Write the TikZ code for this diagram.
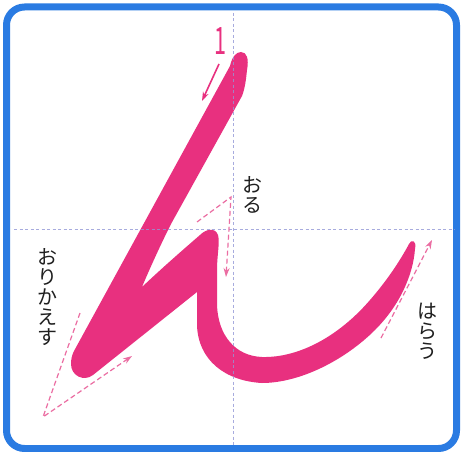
\documentclass[tikz,border=0pt]{standalone}
\usepackage{fontspec}
\newfontfamily\jpfont{Noto Sans CJK JP}
\usepackage{tikz}
\usetikzlibrary{arrows.meta, positioning}
\definecolor{FrameBlue}{HTML}{2A7BE2}
\definecolor{InkPink}{HTML}{E8307F}
\definecolor{HintPink}{HTML}{EB6DA2}
\definecolor{GuideLilac}{HTML}{9297D6}

\begin{document}
\begin{tikzpicture}[x=1pt, y=-1pt,
    frame/.style={draw=FrameBlue, line width=7pt, rounded corners=18pt, fill=white},
    guide/.style={draw=GuideLilac, draw opacity=0.8, line width=0.9pt, dash pattern=on 3pt off 2.5pt},
    ink/.style={fill=InkPink},
    order/.style={draw=InkPink, line width=1.6pt, -{Stealth[length=9pt, width=6pt]}},
    hint/.style={draw=HintPink, line width=1.2pt, dash pattern=on 5pt off 3pt},
    hinttip/.style={hint, -{Stealth[length=9pt, width=6pt]}},
    vlabel/.style={font=\jpfont\fontsize{20}{20}\selectfont, align=center, inner sep=0pt, text=black!88}
]
\useasboundingbox (0,0) rectangle (463,452);
\draw[frame] (6.5,7) rectangle (456.5,448.5);

% --- the character ---
\fill[ink] (230,66)
  .. controls (232,57) and (236,52) .. (241,52)
  .. controls (247,52) and (249,59) .. (247,70)
  .. controls (246,80) and (245,88) .. (242,96)
  -- (171,224)
  .. controls (160,246) and (150,268) .. (142,287)
  .. controls (162,268) and (185,248) .. (200,235)
  .. controls (206,229) and (215,227) .. (218,235)
  .. controls (220,243) and (217,255) .. (217,270)
  -- (217,305)
  .. controls (218,335) and (235,356) .. (262,357)
  .. controls (300,358) and (340,335) .. (370,300)
  .. controls (390,277) and (402,257) .. (409,244)
  .. controls (411,239) and (417,240) .. (415,249)
  .. controls (413,275) and (400,305) .. (375,330)
  .. controls (345,360) and (300,383) .. (262,383)
  .. controls (225,381) and (198,360) .. (197,325)
  -- (197,292)
  -- (93,375)
  .. controls (84,382) and (71,376) .. (71,364)
  .. controls (71,359) and (72,355) .. (74,351)
  -- cycle;

% --- guide lines ---
\coordinate (gtop) at (233,13);
\coordinate (gbot) at (233,447);
\coordinate (gleft) at (14,229);
\coordinate (gright) at (455,229);
\draw[guide] (gtop) -- (gbot);
\draw[guide] (gleft) -- (gright);

% --- stroke number and start arrow ---
\node[text=InkPink, font=\jpfont\fontsize{36}{36}\selectfont, inner sep=0pt] (num) at (220,41) {\scalebox{0.6}[1.05]{1}};
\coordinate (st1) at (219,64);
\coordinate (st2) at (202,101);
\draw[order] (st1) -- (st2);

% --- おる ---
\coordinate (oru1) at (197,222);
\coordinate (oru2) at (231,197);
\coordinate (oru3) at (226,277);
\draw[hinttip] (oru1) -- (oru2) -- (oru3);
\node[vlabel] (oru) at (252,195) {お\\る};

% --- おりかえす ---
\coordinate (ori1) at (80,313);
\coordinate (ori2) at (43,417);
\coordinate (ori3) at (132,356);
\draw[hinttip] (ori1) -- (ori2) -- (ori3);
\node[vlabel] (ori) at (47,297) {お\\り\\か\\え\\す};

% --- はらう ---
\coordinate (har1) at (381,338);
\coordinate (har2) at (432,240);
\draw[hinttip] (har1) -- (har2);
\node[vlabel] (har) at (427,331) {は\\ら\\う};
\end{tikzpicture}
\end{document}
